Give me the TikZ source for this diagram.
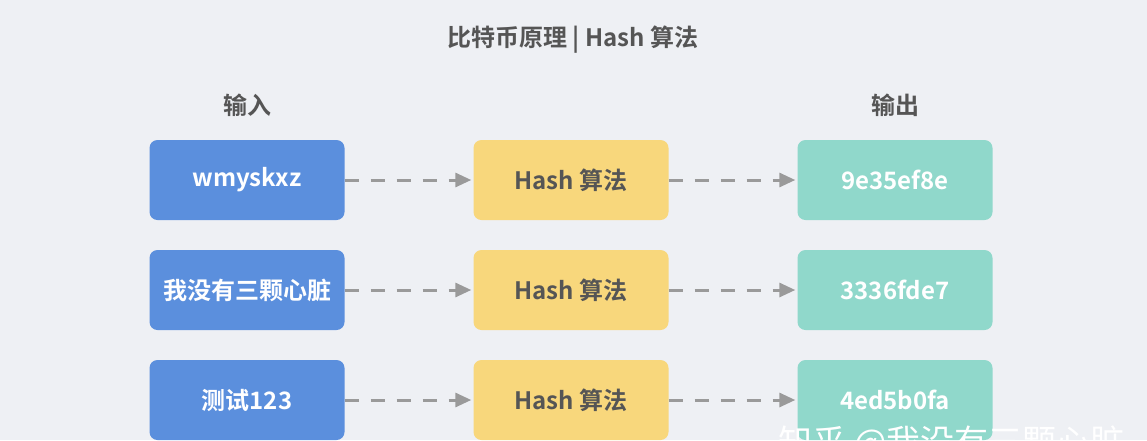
\documentclass[tikz,border=0pt]{standalone}
\usepackage{fontspec}
\setmainfont{Noto Sans CJK SC}[BoldFont={Noto Sans CJK SC Bold}]
\usetikzlibrary{arrows.meta, positioning}
\definecolor{bgc}{HTML}{EEF0F4}
\definecolor{inblue}{HTML}{5B8FDD}
\definecolor{hashyel}{HTML}{F8D77C}
\definecolor{outteal}{HTML}{90D8CB}
\definecolor{arrgray}{HTML}{9A9A9A}
\definecolor{txtgray}{HTML}{555555}
\begin{document}
\begin{tikzpicture}[
  x=1pt, y=-1pt, node distance=110pt and 324pt, on grid,
  box/.style={rounded corners=8pt, minimum width=195pt, minimum height=80pt,
    inner sep=0pt, font=\fontsize{24}{28}\selectfont\bfseries},
  inbox/.style={box, fill=inblue, text=white},
  hashbox/.style={box, fill=hashyel, text=txtgray},
  outbox/.style={box, fill=outteal, text=white},
  flow/.style={draw=arrgray, line width=3pt, dash pattern=on 14pt off 12pt,
    -{Triangle[length=16pt,width=14pt]}, shorten >=2pt},
  head/.style={text=txtgray, font=\fontsize{24}{28}\selectfont\bfseries},
  ]
  \fill[bgc] (0,0) rectangle (1147,440);
  \useasboundingbox (0,0) rectangle (1147,440);

  \node[head] (title) at (573,40) {比特币原理 | Hash 算法};
  \node[head] (inlbl) at (247,105) {输入};
  \node[head] (outlbl) at (895,105) {输出};

  \node[inbox]   (in1)   at (247,180)          {wmyskxz};
  \node[hashbox] (hash1) [right=of in1]        {Hash 算法};
  \node[outbox]  (out1)  [right=of hash1]      {9e35ef8e};
  \node[inbox]   (in2)   [below=of in1]        {我没有三颗心脏};
  \node[hashbox] (hash2) [right=of in2]        {Hash 算法};
  \node[outbox]  (out2)  [right=of hash2]      {3336fde7};
  \node[inbox]   (in3)   [below=of in2]        {测试123};
  \node[hashbox] (hash3) [right=of in3]        {Hash 算法};
  \node[outbox]  (out3)  [right=of hash3]      {4ed5b0fa};

  \foreach \i in {1,2,3} {
    \draw[flow] (in\i) -- (hash\i);
    \draw[flow] (hash\i) -- (out\i);
  }

  \node[text=white, font=\fontsize{34}{40}\selectfont, anchor=west] (mark) at (775,443) {知乎 @我没有三颗心脏};
\end{tikzpicture}
\end{document}
